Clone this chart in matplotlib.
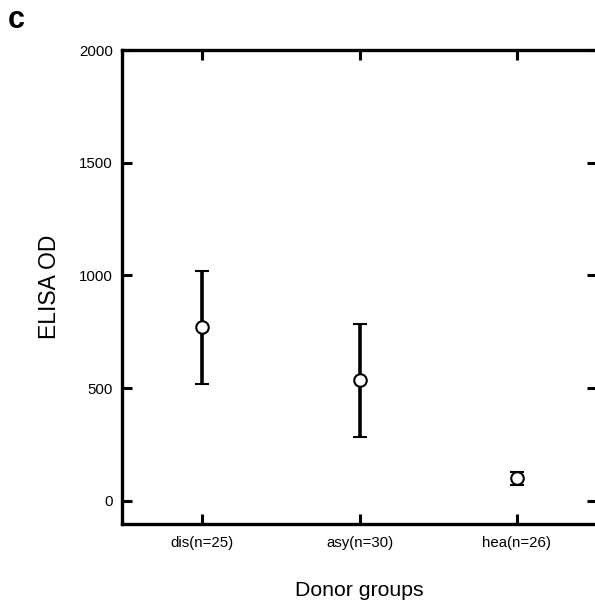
import matplotlib

matplotlib.use("Agg")

import matplotlib.pyplot as plt

GROUPS = ["dis(n=25)", "asy(n=30)", "hea(n=26)"]
MEANS = [770, 535, 102]
ERR_LOW = [252, 252, 32]
ERR_HIGH = [252, 250, 28]
Y_TICKS = [0, 500, 1000, 1500, 2000]

plt.rcParams["font.family"] = ["Liberation Sans", "DejaVu Sans"]

fig = plt.figure(figsize=(5.95, 6.04), dpi=100)
# axes box in pixels: left 122, right ~597 (just past the edge), top 50, bottom 524
ax = fig.add_axes([122 / 595, 1 - 524 / 604, (597 - 122) / 595, (524 - 50) / 604])

x = list(range(1, len(GROUPS) + 1))
ax.errorbar(
    x,
    MEANS,
    yerr=[ERR_LOW, ERR_HIGH],
    fmt="o",
    color="black",
    ecolor="black",
    elinewidth=2.6,
    capsize=5,
    capthick=2.6,
    markersize=9,
    markerfacecolor="white",
    markeredgecolor="black",
    markeredgewidth=1.5,
    zorder=3,
)

ax.set_xlim(0.49, 3.51)
ax.set_ylim(-102, 2000)
ax.set_xticks(x)
ax.set_xticklabels(GROUPS, fontsize=10.8)
ax.set_yticks(Y_TICKS)
ax.set_yticklabels([str(v) for v in Y_TICKS], fontsize=10.8)
ax.tick_params(direction="in", length=7, width=2.2, top=True, right=True)
ax.tick_params(axis="x", pad=9)
ax.tick_params(axis="y", pad=6.5)
for side in ax.spines.values():
    side.set_linewidth(2.4)

ax.set_ylabel("ELISA OD", fontsize=16.5, labelpad=13)
ax.set_xlabel("Donor groups", fontsize=15.3, labelpad=22)

fig.text(8 / 595, 1 - 20 / 604, "c", fontsize=22, fontweight="bold", va="center", ha="left")

fig.savefig("out.png", dpi=100)
